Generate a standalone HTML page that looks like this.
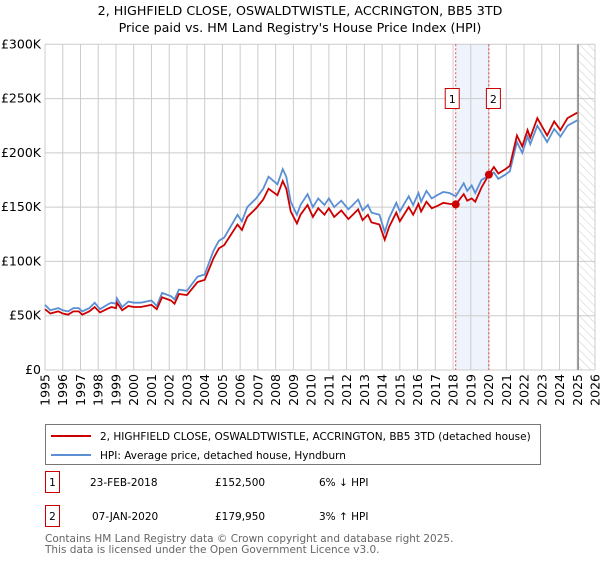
<!DOCTYPE html>
<html><head><meta charset="utf-8"><style>
body{margin:0;background:#fff;font-family:"DejaVu Sans","Liberation Sans",sans-serif;}
svg text{font-family:"DejaVu Sans","Liberation Sans",sans-serif;}
</style></head><body>
<svg id="chart" width="600" height="560" xmlns="http://www.w3.org/2000/svg">
<defs><pattern id="hatch" width="6" height="6" patternUnits="userSpaceOnUse" patternTransform="rotate(-45)"><line x1="0" y1="0" x2="0" y2="6" stroke="#ccc" stroke-width="1"/></pattern></defs>
<text x="300" y="15" text-anchor="middle" font-size="12.7">2, HIGHFIELD CLOSE, OSWALDTWISTLE, ACCRINGTON, BB5 3TD</text>
<text x="300" y="32" text-anchor="middle" font-size="12.7">Price paid vs. HM Land Registry's House Price Index (HPI)</text>
<g id="grid"></g><g id="marks"></g><g id="axes"></g>
<rect x="45.5" y="424.5" width="495" height="40" fill="#fff" stroke="#777"/>
<line x1="51" y1="436" x2="91" y2="436" stroke="#cc0000" stroke-width="2"/>
<text x="100" y="440" font-size="10.5">2, HIGHFIELD CLOSE, OSWALDTWISTLE, ACCRINGTON, BB5 3TD (detached house)</text>
<line x1="51" y1="455" x2="91" y2="455" stroke="#5b8fd4" stroke-width="2"/>
<text x="100" y="459" font-size="10.5">HPI: Average price, detached house, Hyndburn</text>
<g font-size="10.5">
<rect x="45.5" y="471.5" width="14" height="21" fill="#fff" stroke="#cc0000"/>
<text x="52.5" y="486" text-anchor="middle">1</text>
<text x="90" y="486">23-FEB-2018</text><text x="215" y="486">£152,500</text><text x="319" y="486">6% ↓ HPI</text></g>
<g font-size="10.5">
<rect x="45.5" y="505.5" width="14" height="21" fill="#fff" stroke="#cc0000"/>
<text x="52.5" y="520" text-anchor="middle">2</text>
<text x="92" y="520">07-JAN-2020</text><text x="215" y="520">£179,950</text><text x="319" y="520">3% ↑ HPI</text></g>
<text x="45" y="542" font-size="10.5" fill="#666">Contains HM Land Registry data © Crown copyright and database right 2025.</text>
<text x="45" y="553" font-size="10.5" fill="#666">This data is licensed under the Open Government Licence v3.0.</text>
</svg>
<script>
const hpiYears=[1995.0,1995.3,1995.75,1996.0,1996.3,1996.6,1996.9,1997.1,1997.5,1997.8,1998.1,1998.6,1998.75,1999.0,1999.05,1999.35,1999.7,2000.0,2000.4,2001.0,2001.3,2001.6,2002.1,2002.3,2002.55,2003.0,2003.6,2004.0,2004.5,2004.8,2005.1,2005.85,2006.1,2006.4,2006.9,2007.3,2007.6,2008.1,2008.4,2008.6,2008.85,2009.2,2009.4,2009.8,2010.1,2010.4,2010.75,2011.0,2011.3,2011.7,2012.1,2012.35,2012.65,2012.9,2013.2,2013.4,2013.85,2014.15,2014.4,2014.8,2015.0,2015.5,2015.75,2016.05,2016.2,2016.5,2016.8,2017.1,2017.45,2017.8,2018.15,2018.6,2018.8,2019.05,2019.25,2019.6,2020.02,2020.3,2020.55,2020.95,2021.2,2021.6,2021.9,2022.2,2022.35,2022.75,2023.3,2023.7,2024.05,2024.45,2025.0];
const hpiValues=[60,55,57,55,54,57,57,54,57,62,56,61,62,61,66,58,63,62,62,64,59,71,68,65,74,73,86,88,110,119,122,143,137,150,158,167,178,171,185,178,155,143,152,162,150,158,152,158,150,156,148,152,157,147,152,145,143,127,140,154,146,160,152,163,155,165,158,161,164,163,160,172,165,170,163,175,179,182,176,180,183,210,200,215,208,225,210,222,215,225,230];
const priceValues=[56,52,54,52,51,54,54,51,54,58,53,57,58,57,62,55,59,58,58,60,56,67,64,61,70,69,81,83,103,112,115,134,129,141,149,157,167,161,174,167,146,135,143,152,141,149,143,149,141,147,139,143,148,138,143,136,134,120,132,145,137,150,143,153,146,155,149,151,154,153,152.5,162,156,158,155,168,180,187,181,185,188,216,206,221,214,232,216,229,221,232,237];
const yTicks=[0,50,100,150,200,250,300];
const yTickLabels=["£0","£50K","£100K","£150K","£200K","£250K","£300K"];
const xTicks=[1995,1996,1997,1998,1999,2000,2001,2002,2003,2004,2005,2006,2007,2008,2009,2010,2011,2012,2013,2014,2015,2016,2017,2018,2019,2020,2021,2022,2023,2024,2025,2026];
const saleYears=[2018.15,2020.02];
const salePrices=[152.5,179.95];
const saleLabels=["1","2"];
const L=45,R=595,T=44.3,B=370;
const X=y=>L+(y-1995)*(R-L)/31;
const Y=v=>B-v*(B-T)/300;
const NS="http://www.w3.org/2000/svg";
function mk(p,t,a){const e=document.createElementNS(NS,t);for(const k in a)e.setAttribute(k,a[k]);p.appendChild(e);return e;}
const grid=document.getElementById('grid'),marks=document.getElementById('marks'),axes=document.getElementById('axes');
const span=mk(grid,'rect',{x:X(saleYears[0]),y:T,width:X(saleYears[1])-X(saleYears[0]),height:B-T,fill:'#eef3fc'});


const fut=mk(grid,'rect',{x:X(2025.05),y:T,width:R-X(2025.05),height:B-T,fill:'url(#hatch)'});


yTicks.forEach((v,i)=>{
 const l=mk(grid,'line',{x1:L,x2:R,y1:Y(v),y2:Y(v),stroke:'#ccc'});
 
 
 const t=mk(axes,'text',{x:L-4,y:Y(v)+4,'text-anchor':'end','font-size':'12.5'});
 t.textContent=yTickLabels[i];
 
 
});
xTicks.forEach(yr=>{
 const l=mk(grid,'line',{x1:X(yr),x2:X(yr),y1:T,y2:B,stroke:'#ccc'});
 
 
 const t=mk(axes,'text',{x:0,y:0,'text-anchor':'end','font-size':'12.5',transform:`translate(${X(yr)+4.5},${B+4}) rotate(-90)`});
 t.textContent=yr;
 
 
});
const gl=mk(grid,'line',{x1:X(2025.05),x2:X(2025.05),y1:T,y2:B,stroke:'#888','stroke-width':1.5});


saleYears.forEach((s,i)=>{
 const l=mk(grid,'line',{x1:X(s),x2:X(s),y1:T,y2:B,stroke:'#e05050','stroke-dasharray':'2,2'});
 
 
});
const hp=mk(marks,'polyline',{points:hpiYears.map((y,i)=>X(y)+','+Y(hpiValues[i])).join(' '),fill:'none',stroke:'#5b8fd4','stroke-width':1.8});


const pp=mk(marks,'polyline',{points:hpiYears.map((y,i)=>X(y)+','+Y(priceValues[i])).join(' '),fill:'none',stroke:'#cc0000','stroke-width':1.8});


saleYears.forEach((s,i)=>{
 const c=mk(marks,'circle',{cx:X(s),cy:Y(salePrices[i]),r:4,fill:'#cc0000'});
 
 
 const bx=X(s)-(i==0?11:3)+0.5;
 const r=mk(marks,'rect',{x:bx,y:88.5,width:14,height:20,fill:'#fff',stroke:'#cc0000'});
 
 
 const t=mk(marks,'text',{x:bx+7,y:103,'text-anchor':'middle','font-size':'11'});
 t.textContent=saleLabels[i];
 
 
});
</script>
</body></html>
